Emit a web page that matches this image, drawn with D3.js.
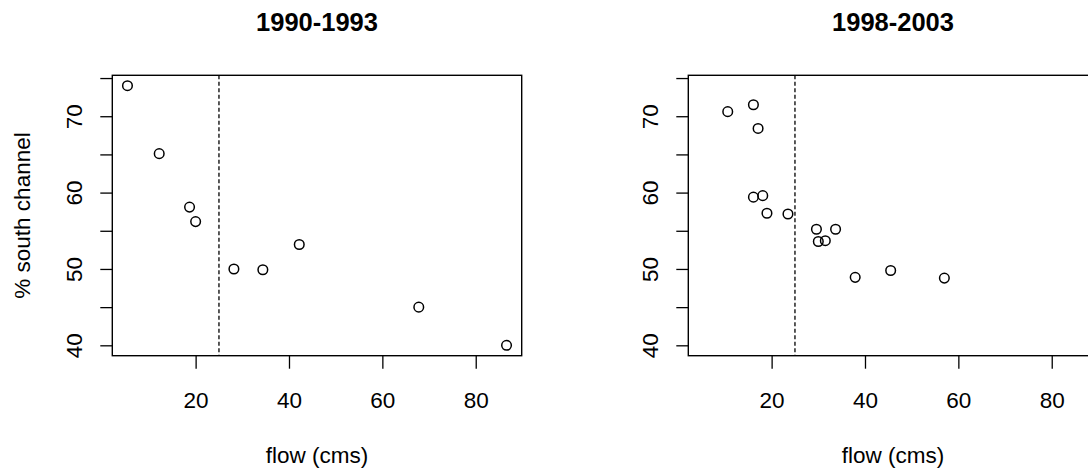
<!DOCTYPE html>
<html>
<head>
<meta charset="utf-8">
<script src="https://cdn.jsdelivr.net/npm/d3@7"></script>
<style>
  html, body { margin: 0; padding: 0; background: #fff; }
  svg { display: block; }
  text { font-family: "Liberation Sans", Arial, sans-serif; fill: #000; }
</style>
</head>
<body>
<svg id="chart" width="1088" height="472"></svg>
<script>
// Flow (cms) against share of water taking the south channel, two periods
const titles = ["1990-1993", "1998-2003"];

const flow9093 = [5.4, 12.2, 18.7, 20.0, 28.2, 34.4, 42.2, 67.8, 86.6];
const south9093 = [74.0, 65.1, 58.1, 56.2, 50.0, 49.9, 53.2, 45.0, 40.0];

const flow9803 = [10.6, 16.1, 17.1, 16.1, 18.1, 19.0, 23.5, 29.6, 30.0, 31.5, 33.7, 37.9, 45.5, 57.0];
const south9803 = [70.6, 71.5, 68.4, 59.4, 59.6, 57.3, 57.2, 55.2, 53.6, 53.7, 55.2, 48.9, 49.8, 48.8];

const xTicks = [20, 40, 60, 80];
const yTicks = [40, 45, 50, 55, 60, 65, 70, 75];
const yTickLabels = [40, 50, 60, 70];
const threshold = 25;

const xLabel = "flow (cms)";
const yLabel = "% south channel";

const panels = [
  { title: titles[0], x: flow9093, y: south9093, left: 112.3 },
  { title: titles[1], x: flow9803, y: south9803, left: 688.3 }
];

// Shared axis limits, padded by 4% like base graphics
function padded(vals) {
  const [lo, hi] = d3.extent(vals);
  const e = (hi - lo) * 0.04;
  return [lo - e, hi + e];
}
const xDom = padded(flow9093);
const yDom = padded(south9093.concat(south9803));

const boxW = 409.4, boxTop = 75.3, boxBottom = 355.7;
const svg = d3.select("#chart");
const fontAxis = 22.5;

panels.forEach(p => {
  const x = d3.scaleLinear().domain(xDom).range([p.left, p.left + boxW]);
  const y = d3.scaleLinear().domain(yDom).range([boxBottom, boxTop]);
  const g = svg.append("g");

  // x axis ticks
  const xAxis = d3.axisBottom(x).tickValues(xTicks).tickSize(13).tickPadding(9)
    .tickFormat(d3.format("d"));
  const gx = g.append("g").attr("transform", `translate(0,${boxBottom})`).call(xAxis);
  gx.select(".domain").remove();
  gx.selectAll("line").attr("stroke", "#000").attr("stroke-width", 1.3);
  gx.selectAll("text").attr("font-size", fontAxis).attr("font-family", "Liberation Sans, Arial, sans-serif")
    .attr("dy", null).attr("y", 52.5);

  // y axis ticks with labels running parallel to the axis
  const yAxis = d3.axisLeft(y).tickValues(yTicks).tickSize(12)
    .tickFormat(d => yTickLabels.includes(d) ? d : "");
  const gy = g.append("g").attr("transform", `translate(${p.left},0)`).call(yAxis);
  gy.select(".domain").remove();
  gy.selectAll("line").attr("stroke", "#000").attr("stroke-width", 1.3);
  gy.selectAll("text")
    .attr("font-size", fontAxis).attr("font-family", "Liberation Sans, Arial, sans-serif")
    .attr("x", null).attr("dy", null)
    .attr("text-anchor", "middle")
    .attr("transform", `translate(-30,0) rotate(-90)`);

  // plot frame
  g.append("rect")
    .attr("x", p.left).attr("y", boxTop)
    .attr("width", boxW).attr("height", boxBottom - boxTop)
    .attr("fill", "none").attr("stroke", "#000").attr("stroke-width", 1.4);

  // flow threshold
  g.append("line")
    .attr("x1", x(threshold)).attr("x2", x(threshold))
    .attr("y1", boxTop).attr("y2", boxBottom)
    .attr("stroke", "#000").attr("stroke-width", 1.3)
    .attr("stroke-dasharray", "4,2.5");

  // observations
  g.append("g").selectAll("circle")
    .data(p.x.map((v, i) => [v, p.y[i]]))
    .join("circle")
    .attr("cx", d => x(d[0])).attr("cy", d => y(d[1]))
    .attr("r", 4.8)
    .attr("fill", "none").attr("stroke", "#000").attr("stroke-width", 1.5);

  // panel title
  g.append("text")
    .attr("x", p.left + boxW / 2).attr("y", 30.7)
    .attr("text-anchor", "middle")
    .attr("font-size", 25.5).attr("font-weight", "bold")
    .text(p.title);

  // x axis title
  g.append("text")
    .attr("x", p.left + boxW / 2).attr("y", 462.5)
    .attr("text-anchor", "middle")
    .attr("font-size", fontAxis)
    .text(xLabel);
});

// y axis title on the first panel only
svg.append("text")
  .attr("transform", `translate(29.5,${(boxTop + boxBottom) / 2}) rotate(-90)`)
  .attr("text-anchor", "middle")
  .attr("font-size", fontAxis)
  .text(yLabel);
</script>
</body>
</html>
